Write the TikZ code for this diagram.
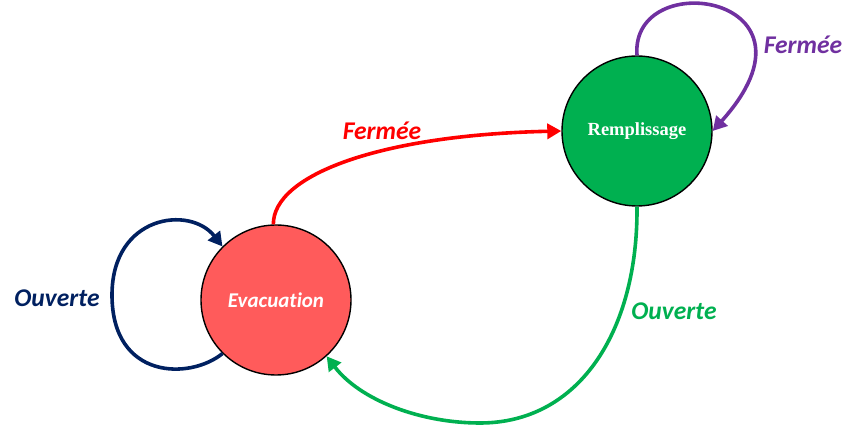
\documentclass[tikz,border=0pt]{standalone}
\usepackage{fontspec}
\setmainfont[Ligatures=NoCommon]{Carlito}
\newfontfamily\tnr{Liberation Serif}
\usetikzlibrary{arrows.meta}
\definecolor{cred}{HTML}{FF0000}
\definecolor{cnavy}{HTML}{002060}
\definecolor{cpurple}{HTML}{7030A0}
\definecolor{cgreen}{HTML}{00B050}
\definecolor{evacfill}{HTML}{FF5B5B}
\tikzset{
  state/.style={circle, draw=black, line width=1.4pt, minimum size=150pt, inner sep=0pt, text=white},
  trans/.style={line width=3.6pt, -{Triangle[length=14pt,width=15pt]}},
  lbl/.style={font=\fontsize{25.5}{28}\selectfont\bfseries\itshape, inner sep=0pt}
}
\begin{document}
\begin{tikzpicture}[x=1pt,y=-1pt]
\useasboundingbox (0,0) rectangle (846,427);
\node[state, fill=evacfill, font=\fontsize{21}{24}\selectfont\bfseries\itshape] (E) at (276,300) {Evacuation};
\node[state, fill=cgreen, font=\fontsize{18.5}{21}\selectfont\tnr\bfseries] (R) at (637,131) {Remplissage};
% red transition
\draw[trans, cred] (E.92) .. controls (273,175) and (380,135) .. (R.west);
\node[lbl, text=cred] (l1) at (382,131) {Fermée};
% purple self loop
\draw[trans, cpurple] (R.90) .. controls (630,-35) and (835,-5) .. (R.east);
\node[lbl, text=cpurple] (l2) at (803,45) {Fermée};
% navy self loop
\coordinate (nl) at (112,295);
\draw[trans, cnavy] (E.225) .. controls (190,380) and (112,380) .. (nl) .. controls (112,215) and (190,205) .. (E.135);
\node[lbl, text=cnavy] (l3) at (57,298) {Ouverte};
% green transition
\coordinate (gb) at (480,423);
\draw[trans, cgreen] (R.south) .. controls (638,330) and (580,423) .. (gb) .. controls (420,423) and (360,400) .. (E.-48);
\node[lbl, text=cgreen] (l4) at (674,311) {Ouverte};
\end{tikzpicture}
\end{document}
